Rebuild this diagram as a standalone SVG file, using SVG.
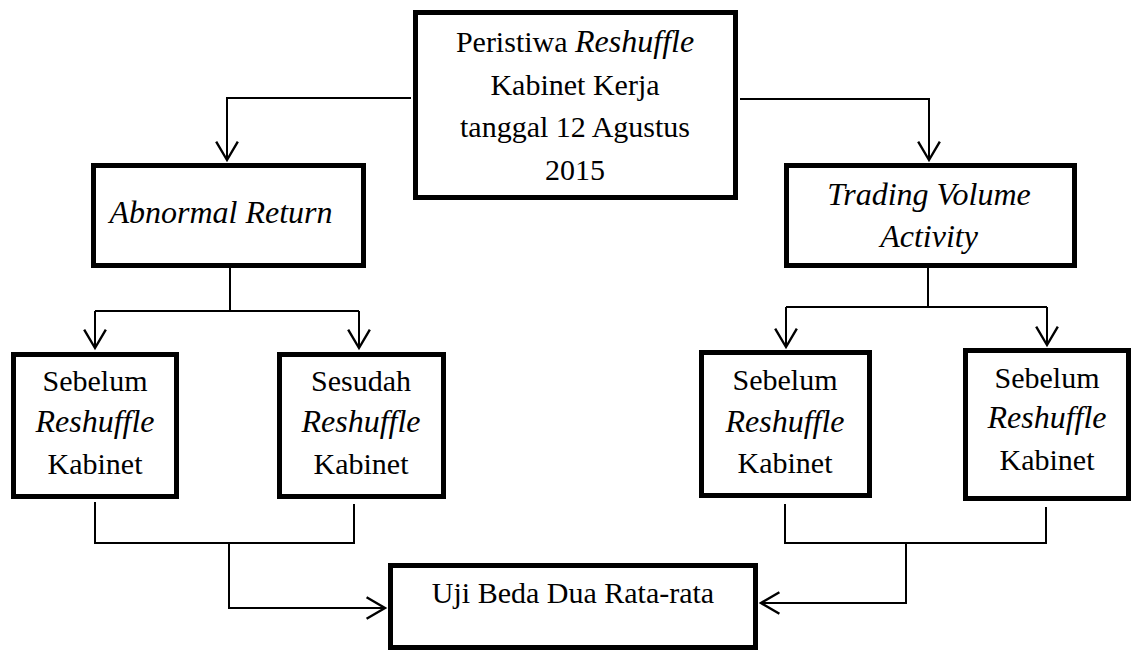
<svg xmlns="http://www.w3.org/2000/svg" width="1134" height="650" viewBox="0 0 1134 650" font-family="'Liberation Serif', 'Times New Roman', Times, serif">
<style>
.box{fill:#fff;stroke:#000;stroke-width:5}
.t{font-family:'Liberation Serif','Times New Roman',Times,serif;font-size:30px;fill:#000;text-anchor:middle}
.i{font-style:italic;font-size:32px}
.c{fill:none;stroke:#000;stroke-width:2}
</style>
<defs>
<marker id="arr" markerUnits="userSpaceOnUse" markerWidth="24" markerHeight="26" viewBox="-20 -12 22 24" refX="0" refY="0" orient="auto" overflow="visible">
<path d="M-17,-10 L0,0 L-17,10" fill="none" stroke="#000" stroke-width="2.2"/>
</marker>
</defs>
<rect width="1134" height="650" fill="#fff"/>
<g id="connectors">
<path class="c" d="M411,98 H227 V160" marker-end="url(#arr)"/>
<path class="c" d="M740,99 H929 V160" marker-end="url(#arr)"/>
<path class="c" d="M230,268 V311"/>
<path class="c" d="M95,311 H359"/>
<path class="c" d="M95,311 V348" marker-end="url(#arr)"/>
<path class="c" d="M359,311 V348" marker-end="url(#arr)"/>
<path class="c" d="M928,268 V307"/>
<path class="c" d="M786,307 H1047"/>
<path class="c" d="M786,307 V347" marker-end="url(#arr)"/>
<path class="c" d="M1047,307 V345" marker-end="url(#arr)"/>
<path class="c" d="M95,502 V543 H354 V504"/>
<path class="c" d="M229,543 V608 H385" marker-end="url(#arr)"/>
<path class="c" d="M785,504 V543 H1046 V507"/>
<path class="c" d="M906,543 V603 H761" marker-end="url(#arr)"/>
</g>
<g id="peristiwa">
<rect class="box" x="415.5" y="12.5" width="320" height="185"/>
<text class="t" x="575" y="52">Peristiwa <tspan class="i">Reshuffle</tspan></text>
<text class="t" x="575" y="95">Kabinet Kerja</text>
<text class="t" x="575" y="137">tanggal 12 Agustus</text>
<text class="t" x="575" y="180">2015</text>
</g>
<g id="abnormal">
<rect class="box" x="93.5" y="165.5" width="270" height="100"/>
<text class="t i" x="221" y="223">Abnormal Return</text>
</g>
<g id="trading">
<rect class="box" x="786.5" y="165.5" width="288" height="100"/>
<text class="t i" x="929" y="205">Trading Volume</text>
<text class="t i" x="929" y="247">Activity</text>
</g>
<g id="ar-sebelum">
<rect class="box" x="13.5" y="354.5" width="163" height="142"/>
<text class="t" x="95" y="391">Sebelum</text>
<text class="t i" x="95" y="432">Reshuffle</text>
<text class="t" x="95" y="474">Kabinet</text>
</g>
<g id="ar-sesudah">
<rect class="box" x="279.5" y="354.5" width="164" height="142"/>
<text class="t" x="361" y="391">Sesudah</text>
<text class="t i" x="361" y="432">Reshuffle</text>
<text class="t" x="361" y="474">Kabinet</text>
</g>
<g id="tva-sebelum-1">
<rect class="box" x="701.5" y="352.5" width="168" height="143"/>
<text class="t" x="785" y="390">Sebelum</text>
<text class="t i" x="785" y="432">Reshuffle</text>
<text class="t" x="785" y="473">Kabinet</text>
</g>
<g id="tva-sebelum-2">
<rect class="box" x="965.5" y="350.5" width="163" height="148"/>
<text class="t" x="1047" y="388">Sebelum</text>
<text class="t i" x="1047" y="428">Reshuffle</text>
<text class="t" x="1047" y="470">Kabinet</text>
</g>
<g id="uji">
<rect class="box" x="390.5" y="565.5" width="365" height="82"/>
<text class="t" x="573" y="603">Uji Beda Dua Rata-rata</text>
</g>
</svg>
